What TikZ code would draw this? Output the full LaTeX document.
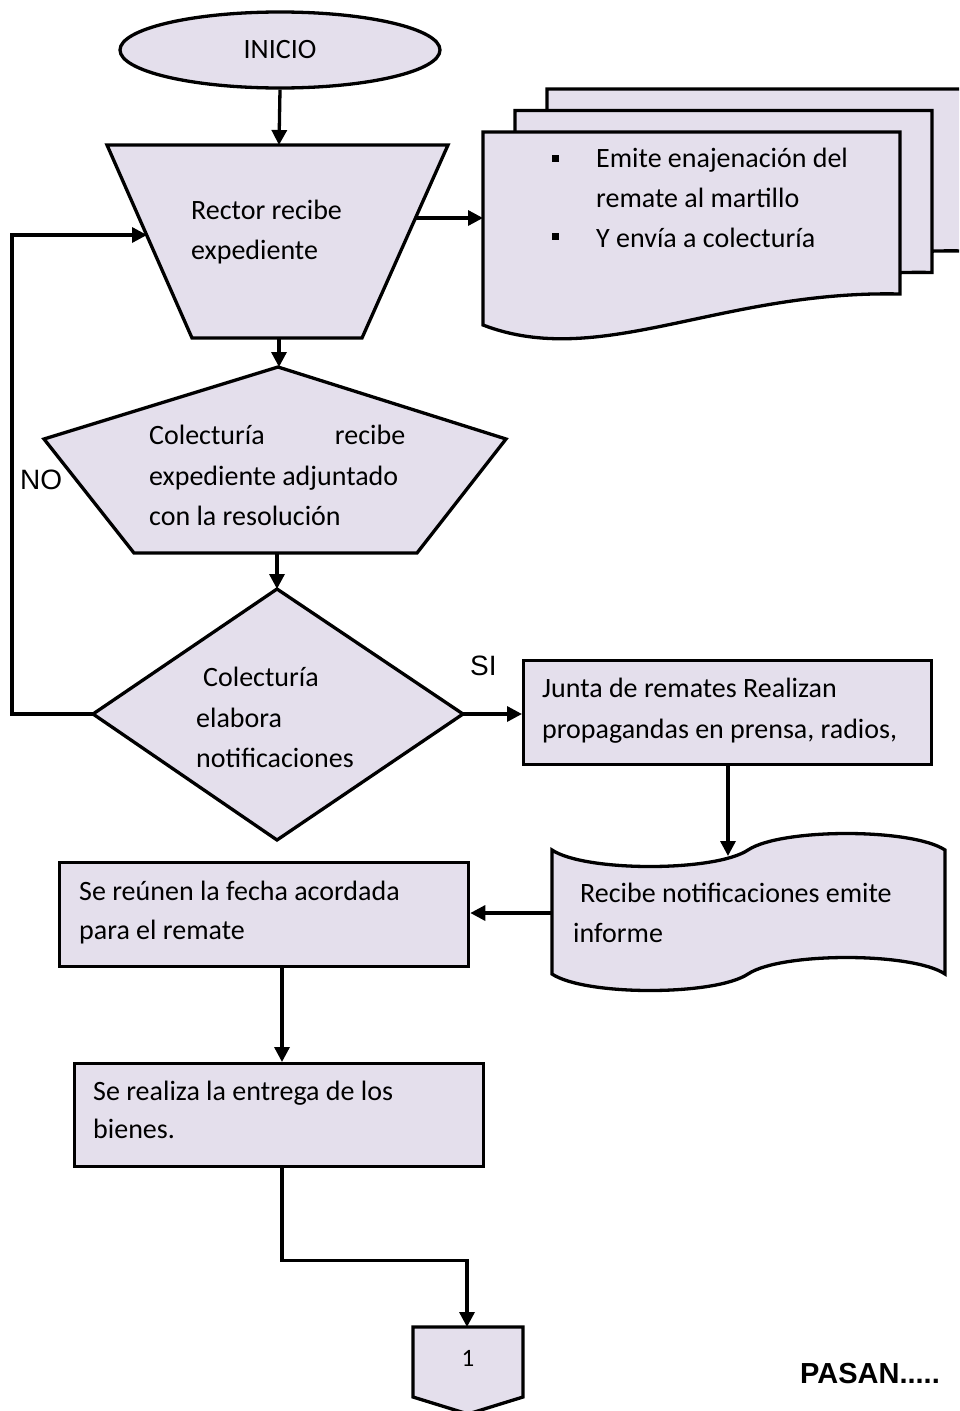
\documentclass[tikz,border=0pt]{standalone}
\usepackage{fontspec}
\setmainfont{Carlito}
\newfontfamily\arialfont{Liberation Sans}
\usetikzlibrary{shapes.geometric,arrows.meta}
\definecolor{boxfill}{RGB}{228,223,236}
\begin{document}
\begin{tikzpicture}[x=1pt,y=-1pt,
  shapeline/.style={draw=black,line width=3.3pt,fill=boxfill,line join=miter},
  conn/.style={draw=black,line width=3.3pt,-{Triangle[length=15pt,width=15pt]}},
  txt/.style={anchor=base west,inner sep=0pt,font=\fontsize{28}{40}\selectfont},
  lbl/.style={anchor=base west,inner sep=0pt,font=\arialfont\fontsize{28}{34}\selectfont},
  boxnode/.style={shapeline,anchor=north west,inner sep=0pt},
]
\useasboundingbox (0,0) rectangle (959,1411);
\clip (0,0) rectangle (959,1411);

% start terminal
\node[shapeline,ellipse,minimum width=320pt,minimum height=76pt,inner sep=0pt,
      font=\fontsize{28}{34}\selectfont] (inicio) at (280,50) {INICIO};

% manual operation (trapezoid)
\draw[shapeline] (107,145) -- (448,145) -- (362,338) -- (192,338) -- cycle;
\coordinate (trapTop) at (279,145);
\coordinate (trapBot) at (279,338);
\coordinate (trapR) at (416,218);
\coordinate (trapL) at (147,235);
\node[txt] (rect1) at (191,219) {Rector recibe};
\node[txt] (rect2) at (191,259) {expediente};

% stacked documents
\foreach \dx/\dy in {64/-43,32/-21.5,0/0}{
  \draw[shapeline,shift={(\dx,\dy)}] (483,132) -- (900,132) -- (900,294)
    .. controls (720,290) and (600,370) .. (483,325) -- cycle;
}
\coordinate (docL) at (483,218);
\node[fill=black,minimum size=7pt,inner sep=0pt] (bul1) at (555,158) {};
\node[fill=black,minimum size=7pt,inner sep=0pt] (bul2) at (555,236) {};
\node[txt] (doc1) at (596,167) {Emite enajenación del};
\node[txt] (doc2) at (596,207) {remate al martillo};
\node[txt] (doc3) at (596,247) {Y envía a colecturía};

% pentagon
\draw[shapeline] (278,367) -- (506,439) -- (417,553) -- (134,553) -- (44,439) -- cycle;
\coordinate (pentTop) at (279,367);
\coordinate (pentBot) at (277,553);
\node[txt] (pen1) at (149,444) {\hbox to 256pt{Colecturía\hfill recibe}};
\node[txt] (pen2) at (149,485) {expediente adjuntado};
\node[txt] (pen3) at (149,525) {con la resolución};

% decision
\draw[shapeline] (277,589) -- (463,714) -- (277,840) -- (93,714) -- cycle;
\coordinate (diamTop) at (277,589);
\coordinate (diamL) at (93,714);
\coordinate (diamR) at (463,714);
\node[txt] (dec1) at (203,686) {Colecturía};
\node[txt] (dec2) at (196,727) {elabora};
\node[txt] (dec3) at (196,767) {notificaciones};

\node[lbl] (nolbl) at (20,489) {NO};
\node[lbl] (silbl) at (470,675) {SI};

% process boxes
\node[boxnode,minimum width=408pt,minimum height=104pt] (junta) at (522,659) {};
\node[txt] (jun1) at (542,697) {Junta de remates Realizan};
\node[txt] (jun2) at (542,738) {propagandas en prensa, radios,};

\node[boxnode,minimum width=409pt,minimum height=104pt] (reunen) at (58,861) {};
\node[txt] (reu1) at (79,900) {Se reúnen la fecha acordada};
\node[txt] (reu2) at (79,939) {para el remate};

\node[boxnode,minimum width=409pt,minimum height=103pt] (realiza) at (73,1062) {};
\node[txt] (rea1) at (93,1100) {Se realiza la entrega de los};
\node[txt] (rea2) at (93,1138) {bienes.};

% punched tape
\draw[shapeline] (552,850) .. controls (585,872) and (715,872) .. (748,850)
  .. controls (781,828) and (912,828) .. (945,850) -- (945,974)
  .. controls (912,952) and (781,952) .. (748,974)
  .. controls (715,996) and (585,996) .. (552,974) -- cycle;
\coordinate (tapeIn) at (728,856);
\coordinate (tapeL) at (552,913);
\node[txt] (tap1) at (580,902) {Recibe notificaciones emite};
\node[txt] (tap2) at (573,942) {informe};

% off-page connector
\draw[shapeline] (413,1327) -- (523,1327) -- (523,1397) -- (468,1414) -- (413,1397) -- cycle;
\coordinate (offTop) at (467,1327);
\node[anchor=base,inner sep=0pt,font=\fontsize{25}{30}\selectfont] (onelbl) at (468,1366) {1};

\node[anchor=base west,inner sep=0pt,font=\arialfont\bfseries\fontsize{29}{34}\selectfont]
  (pasan) at (800,1383) {PASAN.....};

% connectors
\coordinate (axis) at (282,0);
\draw[conn] (inicio.south) -- (trapTop);
\draw[conn] (trapR) -- (docL);
\draw[conn] (trapBot) -- (pentTop);
\draw[conn] (pentBot) -- (diamTop);
\draw[conn] (diamL) -- ++(-81,0) |- (trapL);
\draw[conn] (diamR) -- (diamR -| junta.west);
\draw[conn] (junta.south -| tapeIn) -- (tapeIn);
\draw[conn] (tapeL) -- (tapeL -| reunen.east);
\draw[conn] (reunen.south -| axis) -- (realiza.north -| axis);
\draw[conn] (realiza.south -| axis) -- ++(0,92) -| (offTop);
\end{tikzpicture}
\end{document}
